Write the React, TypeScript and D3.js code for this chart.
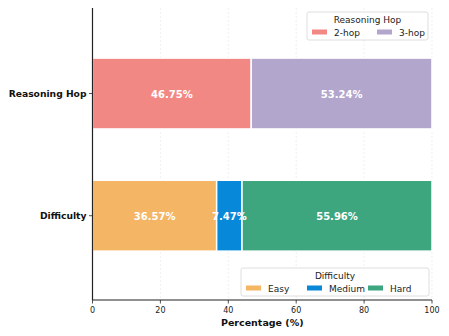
import * as d3 from 'd3';

const categories = ['Reasoning Hop', 'Difficulty'];
const hopLabels = ['2-hop', '3-hop'];
const hopValues = [46.75, 53.24];
const hopColors = ['#F28884', '#B2A6CD'];
const diffLabels = ['Easy', 'Medium', 'Hard'];
const diffValues = [36.57, 7.47, 55.96];
const diffColors = ['#F4B565', '#0788D8', '#3DA67F'];
const xTicks = [0, 20, 40, 60, 80, 100];

const seriesByCategory = [
  { name: categories[0], labels: hopLabels, values: hopValues, colors: hopColors },
  { name: categories[1], labels: diffLabels, values: diffValues, colors: diffColors },
];

function Legend({ x, y, w, title, labels, colors, spacing }: { x: number; y: number; w: number; title: string; labels: string[]; colors: string[]; spacing: number }) {
  return (
    <g transform={`translate(${x},${y})`}>
      <rect x={0} y={0} width={w} height={28} rx={2} fill="white" fillOpacity={0.85} stroke="#d6d6d6" strokeWidth={0.8} />
      <text x={w / 2} y={11} textAnchor="middle" fontSize={9} fill="#222">{title}</text>
      {labels.map((l, i) => (
        <g key={l} transform={`translate(${5 + i * spacing},${20})`}>
          <rect x={0} y={-2.5} width={15} height={5} fill={colors[i]} />
          <text x={22} y={3.5} fontSize={9} fill="#222">{l}</text>
        </g>
      ))}
    </g>
  );
}

export default function App() {
  const width = 449;
  const height = 336;
  const margin = { top: 8, right: 17, bottom: 36, left: 92.5 };
  const innerW = width - margin.left - margin.right;
  const innerH = height - margin.top - margin.bottom;

  const x = d3.scaleLinear().domain([0, 100]).range([0, innerW]);
  // matplotlib-like categorical y: Difficulty at 0, Reasoning Hop at 1
  const y = d3.scaleLinear().domain([-0.69, 1.7]).range([innerH, 0]);
  const barH = y(0) - y(0.58);
  const catPos = (i: number) => (i === 0 ? 1 : 0);

  return (
    <svg width={width} height={height} style={{ position: 'absolute', left: 0, top: 0, background: 'white' }} fontFamily="DejaVu Sans, sans-serif">
      <g transform={`translate(${margin.left},${margin.top})`}>
        {xTicks.map((t) => (
          <line key={t} x1={x(t)} x2={x(t)} y1={0} y2={innerH} stroke="#e6e6e6" strokeWidth={0.6} strokeDasharray="2 2" />
        ))}
        {seriesByCategory.map((s, ci) => {
          const cy = y(catPos(ci));
          const starts = s.values.map((_, i) => d3.sum(s.values.slice(0, i)));
          return (
            <g key={s.name}>
              {s.values.map((v, i) => (
                <rect key={s.labels[i]} x={x(starts[i])} y={cy - barH / 2} width={x(v) - x(0)} height={barH} fill={s.colors[i]} stroke="white" strokeWidth={1.5} />
              ))}
              {s.values.map((v, i) => (
                <text key={`t-${s.labels[i]}`} x={x(starts[i] + v / 2)} y={cy + 4} textAnchor="middle" fontSize={10} fontWeight="bold" fill="white">
                  {v.toFixed(2)}%
                </text>
              ))}
              <line x1={-3.5} x2={0} y1={cy} y2={cy} stroke="#222" strokeWidth={0.8} />
              <text x={-6} y={cy + 3.5} textAnchor="end" fontSize={9.2} fontWeight="bold" fill="#111">{s.name}</text>
            </g>
          );
        })}
        <line x1={0} x2={0} y1={0} y2={innerH} stroke="#222" strokeWidth={1.2} />
        <line x1={0} x2={innerW} y1={innerH} y2={innerH} stroke="#222" strokeWidth={1.2} />
        {xTicks.map((t) => (
          <g key={`x-${t}`} transform={`translate(${x(t)},${innerH})`}>
            <line y1={0} y2={3.5} stroke="#222" strokeWidth={0.8} />
            <text y={12.5} textAnchor="middle" fontSize={8} fill="#222">{t}</text>
          </g>
        ))}
        <text x={innerW / 2} y={innerH + 26} textAnchor="middle" fontSize={9.5} fontWeight="bold" fill="#111">Percentage (%)</text>
      </g>
      <Legend x={307} y={12} w={121} title="Reasoning Hop" labels={hopLabels} colors={hopColors} spacing={65} />
      <Legend x={241} y={268} w={188} title="Difficulty" labels={diffLabels} colors={diffColors} spacing={61} />
    </svg>
  );
}
